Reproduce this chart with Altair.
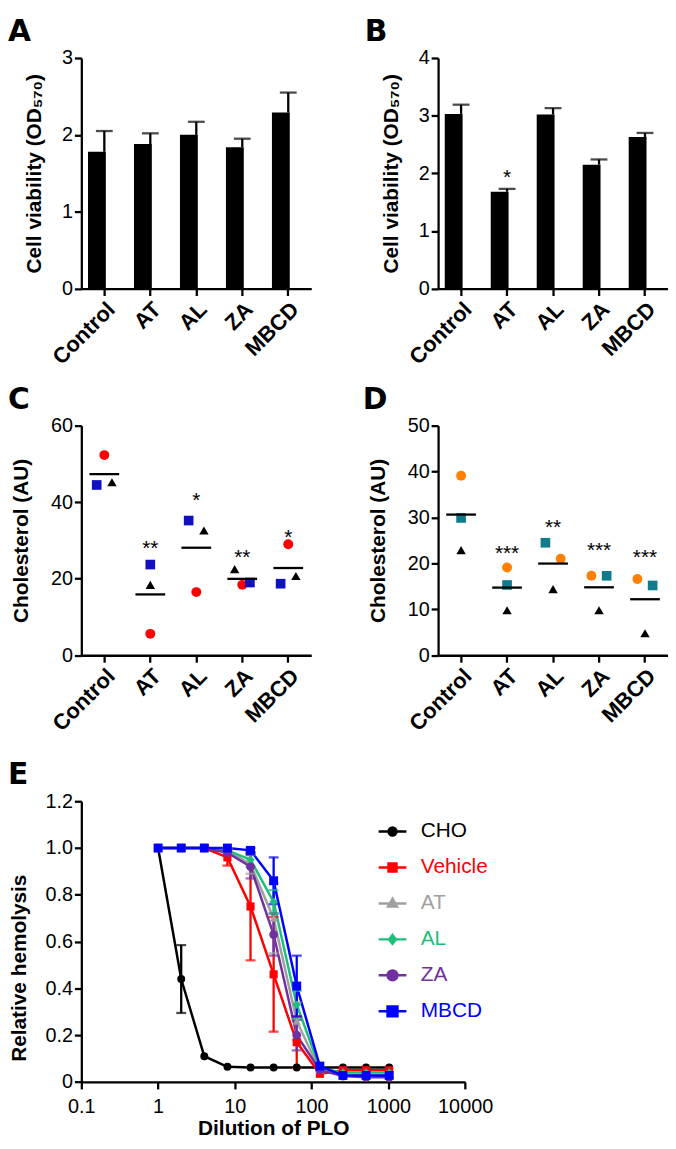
import altair as alt
import pandas as pd

FONT = "Liberation Sans"

# ---------------- data ----------------
cats = ["Control", "AT", "AL", "ZA", "MBCD"]

# Panel A  (cell viability, OD570)
A_mean = [1.78, 1.88, 2.00, 1.84, 2.29]
A_sem = [0.27, 0.14, 0.17, 0.11, 0.26]

# Panel B
B_mean = [3.03, 1.68, 3.02, 2.15, 2.63]
B_sem = [0.16, 0.05, 0.11, 0.09, 0.07]
B_star = ["", "*", "", "", ""]
B_star_y = [None, 2.0, None, None, None]

# Panel C  (cholesterol, AU)
C_circle = [52.3, 5.6, 16.5, 18.4, 29.0]
C_square = [44.5, 23.7, 35.2, 19.0, 18.7]
C_triangle = [45.2, 18.4, 32.6, 22.5, 20.7]
C_star = ["", "**", "*", "**", "*"]
C_star_y = [None, 29.0, 41.7, 26.6, 32.0]
C_slot_circle = [0, 0, 0, 0, 0]
C_slot_square = [-1, 0, -1, 1, -1]
C_slot_triangle = [1, 0, 1, -1, 1]

# Panel D
D_circle = [39.1, 19.1, 21.0, 17.3, 16.6]
D_square = [29.9, 15.3, 24.5, 17.3, 15.2]
D_triangle = [22.9, 9.8, 14.4, 9.8, 4.8]
D_star = ["", "***", "**", "***", "***"]
D_star_y = [None, 23.2, 28.8, 23.7, 22.2]
D_slot_circle = [0, 0, 1, -1, -1]
D_slot_square = [0, 0, -1, 1, 1]
D_slot_triangle = [0, 0, 0, 0, 0]

# Panel E  (relative hemolysis vs dilution of PLO)
dilution = [1, 2, 4, 8, 16, 32, 64, 128, 256, 512, 1024]
series = ["CHO", "Vehicle", "AT", "AL", "ZA", "MBCD"]
CHO_mean = [1.0, 0.44, 0.11, 0.065, 0.062, 0.062, 0.062, 0.062, 0.062, 0.062, 0.062]
CHO_sem = [0, 0.145, 0, 0, 0, 0, 0, 0, 0, 0, 0]
Vehicle_mean = [1.0, 1.0, 1.0, 0.96, 0.75, 0.46, 0.17, 0.035, 0.05, 0.05, 0.05]
Vehicle_sem = [0, 0, 0, 0.035, 0.23, 0.245, 0.11, 0, 0, 0, 0]
AT_mean = [1.0, 1.0, 1.0, 0.99, 0.93, 0.70, 0.26, 0.05, 0.03, 0.03, 0.03]
AT_sem = [0, 0, 0, 0.01, 0.04, 0.15, 0.08, 0, 0, 0, 0]
AL_mean = [1.0, 1.0, 1.0, 0.99, 0.95, 0.77, 0.33, 0.06, 0.04, 0.04, 0.04]
AL_sem = [0, 0, 0, 0, 0.03, 0.05, 0.06, 0, 0, 0, 0]
ZA_mean = [1.0, 1.0, 1.0, 0.98, 0.92, 0.63, 0.20, 0.05, 0.025, 0.02, 0.02]
ZA_sem = [0, 0, 0, 0.01, 0.05, 0.09, 0.065, 0, 0, 0, 0]
MBCD_mean = [1.0, 1.0, 1.0, 1.0, 0.99, 0.86, 0.41, 0.068, 0.028, 0.028, 0.028]
MBCD_sem = [0, 0, 0, 0, 0.01, 0.10, 0.13, 0, 0, 0, 0]

E_xticks = [0.1, 1, 10, 100, 1000, 10000]
E_yticks = [0, 0.2, 0.4, 0.6, 0.8, 1.0, 1.2]

# ---------------- styles ----------------
E_colors = ["#000000", "#FF0000", "#A0A0A0", "#1CBF7B", "#7030A0", "#0000FF"]
E_shapes = ["circle", "square", "triangle-up", "diamond", "circle", "square"]
E_sizes = [64, 81, 81, 64, 121, 100]
LINE = "M-2.8,0H2.8"
E_legend_paths = [
    LINE + "M0.8,0A0.8,0.8,0,1,1,-0.8,0A0.8,0.8,0,1,1,0.8,0Z",
    LINE + "M-0.8,-0.8H0.8V0.8H-0.8Z",
    LINE + "M0,-0.95L0.9,0.65H-0.9Z",
    LINE + "M0,-0.9L0.7,0L0,0.9L-0.7,0Z",
    LINE + "M1,0A1,1,0,1,1,-1,0A1,1,0,1,1,1,0Z",
    LINE + "M-1,-1H1V1H-1Z",
]
C_colors = ["#FF0000", "#1010C0", "#000000"]
D_colors = ["#FF8000", "#117A8B", "#000000"]
markers = ["circle", "square", "triangle"]
marker_shapes = ["circle", "square", "triangle-up"]
marker_sizes = [100, 90, 110]

W = 232
H1 = 232.7
H2 = 231.7
WE = 387.3
HE_TRUE = 283.3
HE = 292.3
OFF = 7.7
AXW = 2.3
LETTER_X = -74
TICK_FS = 20


def cat_axis():
    return alt.Axis(title=None, labelAngle=315, labelAlign="right", labelBaseline="top",
                    labelFontWeight="bold", labelFontSize=22, labelPadding=3, tickSize=7)


def y_axis(title, values, tx, ty, size=21):
    return alt.Axis(title=title, values=values, format="d", titleX=tx, titleY=ty, titleAngle=270,
                    titleAlign="center", titleBaseline="middle", titleFontSize=size,
                    labelFontSize=TICK_FS, tickSize=7, labelPadding=2)


def letter(ch, x, y):
    return alt.Chart(pd.DataFrame({"t": [ch]})).mark_text(
        font="DejaVu Sans", fontSize=30, fontWeight="bold", align="left", baseline="alphabetic",
        color="black").encode(text="t:N", x=alt.value(x), y=alt.value(y))


def bar_panel(mean, sem, ymax, yvals, ch, star=None, star_y=None):
    df = pd.DataFrame({"cat": cats, "mean": mean,
                       "upper": [m + s for m, s in zip(mean, sem)]})
    xs = alt.Scale(paddingInner=0.29, paddingOuter=0.145)
    ys = alt.Scale(domain=[0, ymax], nice=False)
    base = alt.Chart(df)
    bars = base.mark_bar(color="black").encode(
        x=alt.X("cat:N", sort=cats, scale=xs, axis=cat_axis()),
        y=alt.Y("mean:Q", scale=ys,
                axis=y_axis("Cell viability (OD\u2085\u2087\u2080)", yvals, -47, H1 / 2)),
    )
    err = base.mark_rule(color="black", strokeWidth=AXW).encode(
        x=alt.X("cat:N", sort=cats), y="mean:Q", y2="upper:Q")
    cap = base.mark_tick(color="black", thickness=AXW, size=17, orient="horizontal").encode(
        x=alt.X("cat:N", sort=cats), y="upper:Q")
    layers = [bars, err, cap]
    if star is not None:
        sdf = pd.DataFrame({"cat": cats, "s": star, "y": star_y}).dropna()
        layers.append(alt.Chart(sdf).mark_text(font=FONT, fontSize=21, baseline="alphabetic",
                                               dy=11, color="black").encode(
            x=alt.X("cat:N", sort=cats), y="y:Q", text="s:N"))
    layers.append(letter(ch, LETTER_X, -17))
    return alt.layer(*layers).properties(width=W, height=H1)


def dot_panel(circ, sq, tri, sc, ss, st, colors, ymax, yvals, stars, star_y, ch, lx):
    rows = []
    for i, c in enumerate(cats):
        rows.append(dict(cat=c, marker="circle", value=circ[i], off=sc[i] * OFF))
        rows.append(dict(cat=c, marker="square", value=sq[i], off=ss[i] * OFF))
        rows.append(dict(cat=c, marker="triangle", value=tri[i], off=st[i] * OFF))
    df = pd.DataFrame(rows)
    xs = alt.Scale(paddingInner=0, paddingOuter=0)
    ys = alt.Scale(domain=[0, ymax], nice=False)
    band = W / 5
    pts = alt.Chart(df).mark_point(filled=True, opacity=1).encode(
        x=alt.X("cat:N", sort=cats, scale=xs, axis=cat_axis()),
        xOffset=alt.XOffset("off:Q", scale=alt.Scale(domain=[-band / 2, band / 2], range=[0, band])),
        y=alt.Y("value:Q", scale=ys, axis=y_axis("Cholesterol (AU)", yvals, -60, H2 / 2, 21)),
        shape=alt.Shape("marker:N", scale=alt.Scale(domain=markers, range=marker_shapes), legend=None),
        color=alt.Color("marker:N", scale=alt.Scale(domain=markers, range=colors), legend=None),
        size=alt.Size("marker:N", scale=alt.Scale(domain=markers, range=marker_sizes), legend=None),
    )
    mean = alt.Chart(df).mark_tick(color="black", thickness=AXW, size=30, orient="horizontal").encode(
        x=alt.X("cat:N", sort=cats), y="mean(value):Q")
    sdf = pd.DataFrame({"cat": cats, "s": stars, "y": star_y}).dropna()
    st_layer = alt.Chart(sdf).mark_text(font=FONT, fontSize=21, baseline="alphabetic", dy=11,
                                        color="black").encode(
        x=alt.X("cat:N", sort=cats), y="y:Q", text="s:N")
    return alt.layer(pts, mean, st_layer, letter(ch, lx, -17)).properties(width=W, height=H2)


A = bar_panel(A_mean, A_sem, 3, [0, 1, 2, 3], "A")
B = bar_panel(B_mean, B_sem, 4, [0, 1, 2, 3, 4], "B", B_star, B_star_y)
C = dot_panel(C_circle, C_square, C_triangle, C_slot_circle, C_slot_square, C_slot_triangle,
              C_colors, 60, [0, 20, 40, 60], C_star, C_star_y, "C", LETTER_X)
D = dot_panel(D_circle, D_square, D_triangle, D_slot_circle, D_slot_square, D_slot_triangle,
              D_colors, 50, [0, 10, 20, 30, 40, 50], D_star, D_star_y, "D", LETTER_X - 2)

# ---------------- panel E ----------------
E_means = [CHO_mean, Vehicle_mean, AT_mean, AL_mean, ZA_mean, MBCD_mean]
E_sems = [CHO_sem, Vehicle_sem, AT_sem, AL_sem, ZA_sem, MBCD_sem]
rows = []
for k, s in enumerate(series):
    for d, m, e in zip(dilution, E_means[k], E_sems[k]):
        rows.append(dict(series=s, order=k, dil=d, mean=m, lo=m - e, hi=m + e, sem=e))
dfE = pd.DataFrame(rows)

xsE = alt.Scale(type="log", domain=[E_xticks[0], E_xticks[-1]], nice=False, range=[0, WE])
ysE = alt.Scale(domain=[E_yticks[0], E_yticks[-1]], nice=False, range=[HE, HE - HE_TRUE])
colE = alt.Color("series:N", scale=alt.Scale(domain=series, range=E_colors), legend=None)

xE = alt.X("dil:Q", scale=xsE, axis=alt.Axis(
    title="Dilution of PLO", values=E_xticks, format="~g", labelFontSize=TICK_FS, labelPadding=8,
    labelFlush=False, labelOverlap=False,
    tickSize=7, titleFontSize=21, titleX=WE / 2, titleY=53, titleAlign="center",
    titleBaseline="alphabetic"))
yE = alt.Y("mean:Q", scale=ysE, axis=alt.Axis(
    title="Relative hemolysis", values=E_yticks, tickSize=7, labelPadding=2,
    labelFontSize=TICK_FS, labelExpr="datum.value == 0 ? '0' : format(datum.value, '.1f')",
    titleX=-62, titleY=177, titleAngle=270, titleAlign="center", titleBaseline="middle",
    titleFontSize=21))

baseE = alt.Chart(dfE)
lines = baseE.mark_line(strokeWidth=2.5).encode(
    x=xE, y=yE, color=colE, detail="series:N", order="dil:Q")
errE = baseE.transform_filter("datum.sem > 0").mark_rule(strokeWidth=2.3).encode(
    x="dil:Q", y="lo:Q", y2="hi:Q", color=colE)
capHi = baseE.transform_filter("datum.sem > 0").mark_tick(thickness=2.3, size=10, orient="horizontal").encode(
    x="dil:Q", y="hi:Q", color=colE)
capLo = baseE.transform_filter("datum.sem > 0").mark_tick(thickness=2.3, size=10, orient="horizontal").encode(
    x="dil:Q", y="lo:Q", color=colE)
ptsE = baseE.mark_point(filled=True, opacity=1).encode(
    x="dil:Q", y="mean:Q", color=colE,
    shape=alt.Shape("series:N", scale=alt.Scale(domain=series, range=E_shapes), legend=None),
    size=alt.Size("series:N", scale=alt.Scale(domain=series, range=E_sizes), legend=None),
    order="order:Q")

label_expr = " : ".join(
    [f"datum.label === '{s}' ? '{c}'" for s, c in zip(series[:-1], E_colors[:-1])]) + f" : '{E_colors[-1]}'"
leg = alt.Legend(title=None, orient="none", legendX=303.5, legendY=29, padding=0,
                 labelFont=FONT, labelFontSize=21, labelOffset=18, rowPadding=14.3,
                 symbolSize=100, symbolStrokeWidth=2.5, symbolOpacity=1,
                 labelColor={"expr": label_expr})
legend_layer = baseE.transform_filter("false").mark_point(filled=True, opacity=1, strokeWidth=2.5).encode(
    x="dil:Q", y="mean:Q",
    fill=alt.Fill("series:N", scale=alt.Scale(domain=series, range=E_colors), legend=leg),
    stroke=alt.Stroke("series:N", scale=alt.Scale(domain=series, range=E_colors), legend=leg),
    shape=alt.Shape("series:N", scale=alt.Scale(domain=series, range=E_legend_paths), legend=leg),
)

E = alt.layer(lines, errE, capHi, capLo, ptsE, legend_layer,
              letter("E", LETTER_X, HE - HE_TRUE - 17)).resolve_scale(
    shape="independent", fill="independent", stroke="independent").properties(
    width=W, height=HE)

chart = alt.concat(A, B, C, D, E, columns=2, spacing={"row": 138, "column": 128},
                   align="none", bounds="flush").resolve_scale(
    color="independent", shape="independent", size="independent",
    fill="independent", stroke="independent"
).properties(
    padding={"left": 0, "top": 4.3, "right": 0, "bottom": -4}
).configure_view(stroke=None).configure_axis(
    domainColor="black", domainWidth=AXW, tickColor="black", tickWidth=AXW,
    labelColor="black", titleColor="black", labelFont=FONT, titleFont=FONT,
    titleFontWeight="bold", grid=False
).configure_text(font=FONT)

chart.save("out.html", embed_options={"renderer": "svg", "actions": False})
